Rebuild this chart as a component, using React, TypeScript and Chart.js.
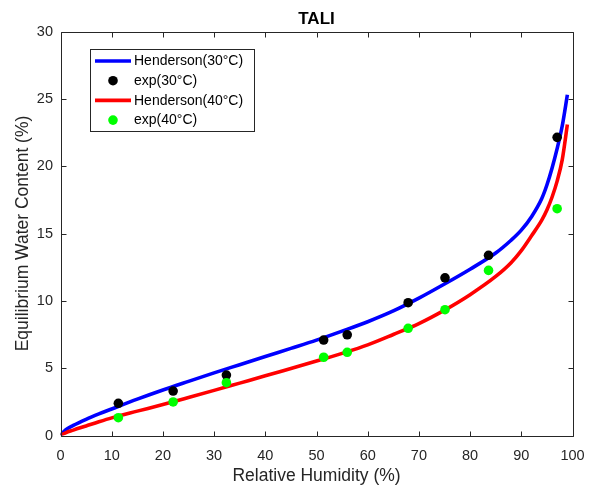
import React, { useEffect, useRef } from "react";
import { Chart, registerables } from "chart.js";

Chart.register(...registerables);

// ---- Text ----
const chartTitle = "TALI";
const xAxisLabel = "Relative Humidity (%)";
const yAxisLabel = "Equilibrium Water Content (%)";
const seriesLabels = ["Henderson(30°C)", "exp(30°C)", "Henderson(40°C)", "exp(40°C)"];

// ---- Axis ranges / ticks ----
const xMin = 0;
const xMax = 100;
const xStep = 10;
const yMin = 0;
const yMax = 30;
const yStep = 5;

// ---- Experimental points ----
const rhExp = [11.3, 22, 32.4, 51.4, 56, 67.9, 75.1, 83.6, 97];
const emcExp30 = [2.39, 3.3, 4.49, 7.09, 7.48, 9.86, 11.71, 13.38, 22.14];
const emcExp40 = [1.32, 2.49, 3.92, 5.81, 6.18, 7.96, 9.34, 12.26, 16.84];

// ---- Henderson curves ----
const rhCurve30 = [0, 1, 2.5, 5, 7.5, 10, 15, 20, 25, 30, 35, 40, 45, 50, 55, 60, 65, 70, 75, 80, 85, 88, 90, 92, 94, 95, 96, 97, 98, 99];
const emcCurve30 = [0, 0.42, 0.75, 1.2, 1.6, 1.97, 2.7, 3.38, 4.02, 4.65, 5.26, 5.87, 6.47, 7.08, 7.75, 8.45, 9.25, 10.2, 11.25, 12.35, 13.55, 14.5, 15.25, 16.25, 17.6, 18.6, 19.85, 21.3, 23.0, 25.3];

const rhCurve40 = [0, 1, 2.5, 5, 7.5, 10, 15, 20, 25, 30, 35, 40, 45, 50, 55, 60, 65, 70, 75, 80, 85, 88, 90, 92, 94, 95, 96, 97, 98, 99];
const emcCurve40 = [0, 0.2, 0.4, 0.71, 1.02, 1.31, 1.81, 2.3, 2.82, 3.35, 3.89, 4.43, 4.98, 5.53, 6.1, 6.73, 7.5, 8.31, 9.31, 10.46, 11.81, 12.83, 13.73, 14.83, 15.99, 16.74, 17.69, 18.89, 20.49, 23.09];

// ---- Styles ----
const seriesColors = ["#0000ff", "#000000", "#ff0000", "#00ff00"];
const seriesIsLine = [true, false, true, false];
const FONT = '"Liberation Sans", Arial, Helvetica, sans-serif';
const AXIS_COLOR = "#262626";

const toXY = (xs: number[], ys: number[]) => xs.map((x, i) => ({ x, y: ys[i] }));

const framePlugin = {
  id: "matlabFrame",
  afterDatasetsDraw(chart: any) {
    const { ctx, chartArea: a, scales } = chart;
    const L = Math.round(a.left) + 0.5;
    const R = Math.round(a.right) + 0.5;
    const T = Math.round(a.top) + 0.5;
    const B = Math.round(a.bottom) + 0.5;
    const tl = 5;
    ctx.save();
    ctx.strokeStyle = AXIS_COLOR;
    ctx.lineWidth = 1;
    ctx.beginPath();
    ctx.rect(L, T, R - L, B - T);
    scales.x.ticks.forEach((t: any) => {
      const px = Math.round(scales.x.getPixelForValue(t.value)) + 0.5;
      ctx.moveTo(px, B);
      ctx.lineTo(px, B - tl);
      ctx.moveTo(px, T);
      ctx.lineTo(px, T + tl);
    });
    scales.y.ticks.forEach((t: any) => {
      const py = Math.round(scales.y.getPixelForValue(t.value)) + 0.5;
      ctx.moveTo(L, py);
      ctx.lineTo(L + tl, py);
      ctx.moveTo(R, py);
      ctx.lineTo(R - tl, py);
    });
    ctx.stroke();
    ctx.restore();
  },
};

const legendPlugin = {
  id: "matlabLegend",
  afterDraw(chart: any) {
    const { ctx, chartArea: a } = chart;
    const bx = Math.round(a.left + 29.5) + 0.5;
    const by = Math.round(a.top + 17.5) + 0.5;
    const bw = 164;
    const bh = 82;
    ctx.save();
    ctx.fillStyle = "#ffffff";
    ctx.fillRect(bx, by, bw, bh);
    ctx.strokeStyle = AXIS_COLOR;
    ctx.lineWidth = 1;
    ctx.strokeRect(bx, by, bw, bh);
    const rowH = 19.7;
    const firstY = by + 11.5;
    ctx.font = `14px ${FONT}`;
    ctx.textBaseline = "middle";
    ctx.textAlign = "left";
    chart.data.datasets.forEach((ds: any, i: number) => {
      const cy = firstY + i * rowH;
      if (seriesIsLine[i]) {
        ctx.strokeStyle = ds.borderColor;
        ctx.lineWidth = 3.6;
        ctx.beginPath();
        ctx.moveTo(bx + 4.5, cy);
        ctx.lineTo(bx + 40.5, cy);
        ctx.stroke();
      } else {
        ctx.fillStyle = ds.backgroundColor;
        ctx.beginPath();
        ctx.arc(bx + 22.5, cy, 4.8, 0, Math.PI * 2);
        ctx.fill();
      }
      ctx.fillStyle = "#000000";
      ctx.fillText(ds.label, bx + 43.5, cy + 0.5);
    });
    ctx.restore();
  },
};

export default function App() {
  const canvasRef = useRef<HTMLCanvasElement | null>(null);

  useEffect(() => {
    document.body.style.margin = "0";
    const canvas = canvasRef.current;
    if (!canvas) return;

    const series = [
      toXY(rhCurve30, emcCurve30),
      toXY(rhExp, emcExp30),
      toXY(rhCurve40, emcCurve40),
      toXY(rhExp, emcExp40),
    ];

    const datasets = series.map((data, i) => {
      const line = seriesIsLine[i];
      return {
        label: seriesLabels[i],
        data,
        showLine: line,
        borderColor: seriesColors[i],
        backgroundColor: seriesColors[i],
        borderWidth: line ? 3.6 : 0,
        pointRadius: line ? 0 : 4.8,
        pointHoverRadius: line ? 0 : 4.8,
        pointBorderWidth: 0,
        cubicInterpolationMode: "monotone" as const,
        order: 3 - i,
      };
    });

    const chart = new Chart(canvas, {
      type: "scatter",
      data: { datasets },
      options: {
        responsive: false,
        animation: false,
        devicePixelRatio: 1,
        layout: { padding: { left: 0, right: 18.5, top: 0, bottom: 0 } },
        plugins: {
          legend: { display: false },
          tooltip: { enabled: false },
          title: {
            display: true,
            text: chartTitle,
            fullSize: false,
            color: "#000000",
            font: { family: FONT, size: 17, weight: "bold" },
            padding: { top: 9.3, bottom: 1.8 },
          },
        },
        scales: {
          x: {
            type: "linear",
            min: xMin,
            max: xMax,
            grid: { display: false, drawTicks: false },
            border: { display: false },
            ticks: {
              stepSize: xStep,
              color: AXIS_COLOR,
              font: { family: FONT, size: 14.5 },
              padding: 12,
              maxRotation: 0,
            },
            title: {
              display: true,
              text: xAxisLabel,
              color: AXIS_COLOR,
              font: { family: FONT, size: 17.5 },
              padding: { top: 0, bottom: 3 },
            },
            afterFit: (s: any) => {
              s.height = 54.5;
              s.paddingLeft = 0;
              s.paddingRight = 0;
            },
          },
          y: {
            type: "linear",
            min: yMin,
            max: yMax,
            grid: { display: false, drawTicks: false },
            border: { display: false },
            ticks: {
              stepSize: yStep,
              color: AXIS_COLOR,
              font: { family: FONT, size: 14.5 },
              padding: 7.5,
            },
            title: {
              display: true,
              text: yAxisLabel,
              color: AXIS_COLOR,
              font: { family: FONT, size: 17.5 },
              padding: { top: 13, bottom: 0 },
            },
            afterFit: (s: any) => {
              s.width = 60.5;
              s.paddingTop = 0;
              s.paddingBottom = 0;
            },
          },
        },
      },
      plugins: [framePlugin, legendPlugin],
    });

    return () => chart.destroy();
  }, []);

  return (
    <div style={{ position: "absolute", left: 0, top: 0, width: 591, height: 490, background: "#ffffff" }}>
      <canvas ref={canvasRef} width={591} height={490} style={{ display: "block" }} />
    </div>
  );
}
